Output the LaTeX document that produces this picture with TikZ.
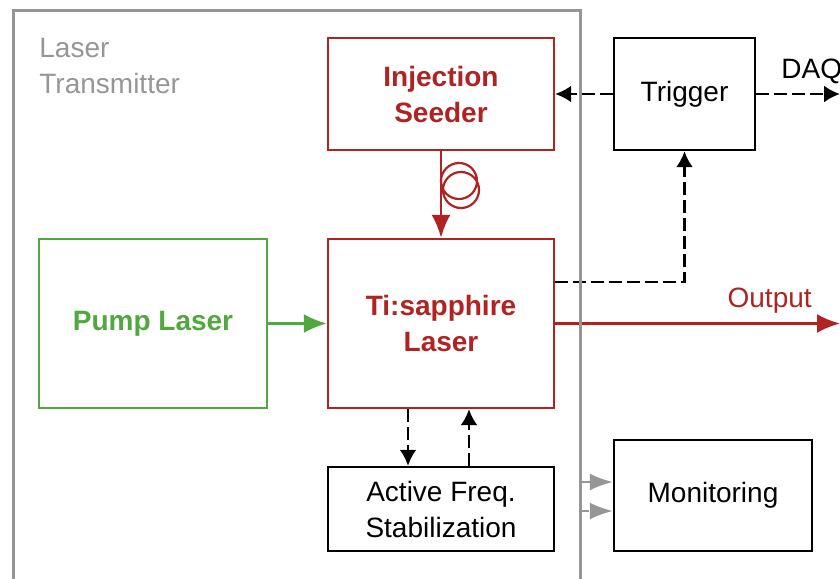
\documentclass[tikz,border=0pt]{standalone}
\usepackage{fontspec}
\setmainfont{Liberation Sans}
\usepackage{tikz}
\usepackage{xcolor}
\usetikzlibrary{arrows.meta}

\definecolor{laserred}{RGB}{175,35,35}
\definecolor{pumpgreen}{RGB}{80,168,62}
\definecolor{framegray}{RGB}{150,150,150}

\tikzset{
    block/.style={draw, line width=1.2pt, inner sep=0pt, align=center},
    redblock/.style={block, draw=laserred, text=laserred, font=\fontsize{14pt}{18pt}\selectfont\bfseries},
    beam/.style={line width=1.2pt, -{Latex[length=11.5pt,width=9.5pt]}},
    signal/.style={line width=1.3pt, dash pattern=on 6.5pt off 2.5pt, -{Latex[length=8pt,width=8.5pt]}},
    feed/.style={framegray, line width=1.1pt, -{Latex[length=11.5pt,width=8.5pt]}},
}

\begin{document}
\begin{tikzpicture}[x=0.5pt, y=-0.5pt, font=\fontsize{14pt}{18pt}\selectfont]
    \clip (0,0) rectangle (840,578);

    % boxes
    \node[redblock, minimum width=113pt, minimum height=56pt] (seeder) at (441,94) {Injection\\Seeder};
    \node[redblock, minimum width=113pt, minimum height=84.5pt] (tisa) at (441,323.5) {Ti:sapphire\\Laser};
    \node[block, draw=pumpgreen, text=pumpgreen, font=\fontsize{14pt}{18pt}\selectfont\bfseries,
          minimum width=114pt, minimum height=84.5pt] (pump) at (153,323.5) {Pump Laser};
    \node[block, minimum width=113pt, minimum height=42pt] (afs) at (441,509) {Active Freq.\\Stabilization};
    \node[block, minimum width=70.5pt, minimum height=56pt] (trigger) at (684.5,94) {Trigger};
    \node[block, minimum width=99pt, minimum height=55.5pt] (monitor) at (713,495.5) {Monitoring};

    \coordinate (daq) at (840,94);
    \coordinate (out) at (840,323.5);

    % beam paths
    \draw[beam, laserred] (seeder.south) -- (tisa.north);
    \draw[laserred, line width=1.1pt] (459,181) circle (9pt) (461,190) circle (9pt);
    \draw[beam, pumpgreen] (pump.east) -- (tisa.west);
    \draw[beam, laserred] (tisa.east) -- (out) node[pos=0.753, above=1pt]{Output};

    % control signals
    \draw[signal] (trigger.west) -- (seeder.east);
    \draw[signal] (trigger.east) -- (daq);
    \node[anchor=base west, inner sep=0pt] (daqlabel) at (781,78) {DAQ};
    \draw[signal] ([yshift=20.75pt]tisa.east) -| (trigger.south);
    \draw[signal] ([xshift=-16.5pt]tisa.south) -- ([xshift=-16.5pt]afs.north);
    \draw[signal] ([xshift=14pt]afs.north) -- ([xshift=14pt]tisa.south);

    % transmitter frame
    \draw[framegray, line width=1.5pt] (13,10) rectangle (580,600);
    \node[anchor=north west, inner sep=0pt, align=left, text=framegray] (txlabel) at (39,38) {Laser\\Transmitter};
    \coordinate (tx) at (580,0);
    \draw[feed] ([yshift=6.75pt]monitor.west -| tx) -- ([yshift=6.75pt]monitor.west);
    \draw[feed, dash pattern=on 4.7pt off 2.5pt] ([yshift=-7.75pt]monitor.west -| tx) -- ([yshift=-7.75pt]monitor.west);
\end{tikzpicture}
\end{document}
